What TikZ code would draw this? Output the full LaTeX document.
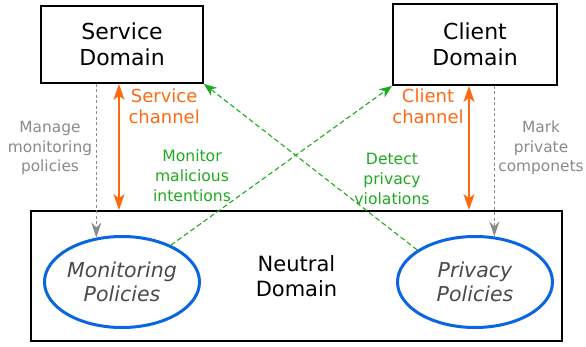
\documentclass[tikz,border=0pt]{standalone}
\usepackage{fontspec}
\setmainfont{DejaVu Sans}
\usetikzlibrary{positioning,arrows.meta,shapes.geometric}
\definecolor{chorange}{HTML}{FF6A10}
\definecolor{mongreen}{HTML}{1FAA1F}
\definecolor{notegray}{HTML}{8A8A8A}
\definecolor{polblue}{HTML}{0A66E0}
\definecolor{poltext}{HTML}{4A4A4A}

\begin{document}
\begin{tikzpicture}[x=1pt,y=-1pt,
    dom/.style={draw,line width=1.7pt,align=center,font=\fontsize{22}{26}\selectfont},
    pol/.style={ellipse,draw=polblue,line width=3pt,inner sep=0pt,minimum width=155pt,minimum height=91pt,
      align=center,text=poltext,font=\fontsize{20.5}{24}\selectfont\itshape},
    chan/.style={text=chorange,align=center,font=\fontsize{18}{21}\selectfont},
    note/.style={text=notegray,align=center,font=\fontsize{15.4}{19.5}\selectfont},
    mon/.style={text=mongreen,align=center,font=\fontsize{15.6}{20}\selectfont}]
     \useasboundingbox (0,0) rectangle (586,346);

     \node[dom,minimum width=162pt,minimum height=77pt] (sd) at (122,44.5) {Service\\Domain};
     \node[dom,minimum width=164pt,minimum height=81pt] (cd) at (475,44.5) {Client\\Domain};
     \node[dom,minimum width=531pt,minimum height=130pt,font=\fontsize{21}{25}\selectfont] (nd) at (296.5,276) {Neutral\\Domain};

     \node[pol] (mp) at (122,282) {Monitoring\\Policies};
     \node[pol] (pp) at (475,282) {Privacy\\Policies};

     \coordinate (sc) at (119,0);
     \coordinate (cc) at (469,0);

     \node[chan,anchor=west] (sl) at (125,106) {Service\\channel};
     \node[chan] (cl) at (428,106) {Client\\channel};
     \node[note] (ml) at (50,148) {Manage\\monitoring\\policies};
     \node[note] (pl) at (541,148) {Mark\\private\\componets};
     \node[mon] (mm) at (192,176) {Monitor\\malicious\\intentions};
     \node[mon] (dv) at (392,179) {Detect\\privacy\\violations};

     % channels
     \path[chorange,line width=1.8pt,{Stealth[length=16pt,width=11pt,inset=4pt]}-{Stealth[length=16pt,width=11pt,inset=4pt]}]
     (sd.south -| sc) edge (nd.north -| sc)
     (cd.south -| cc) edge (nd.north -| cc);

     % policy management
     \path[notegray,line width=1.4pt,dash pattern=on 3pt off 2.5pt,-{Stealth[length=15pt,width=10pt,inset=5pt]}]
     (sd.south -| mp.120) edge (mp.120)
     (cd.south -| pp.67) edge (pp.67);

     % monitoring
     \path[mongreen,line width=1.1pt,dash pattern=on 5pt off 3pt,-{Stealth[length=13pt,width=10pt,inset=4pt]}]
     (mp.37) edge (cd.south west)
     (pp.151) edge (sd.south east);
\end{tikzpicture}
\end{document}
